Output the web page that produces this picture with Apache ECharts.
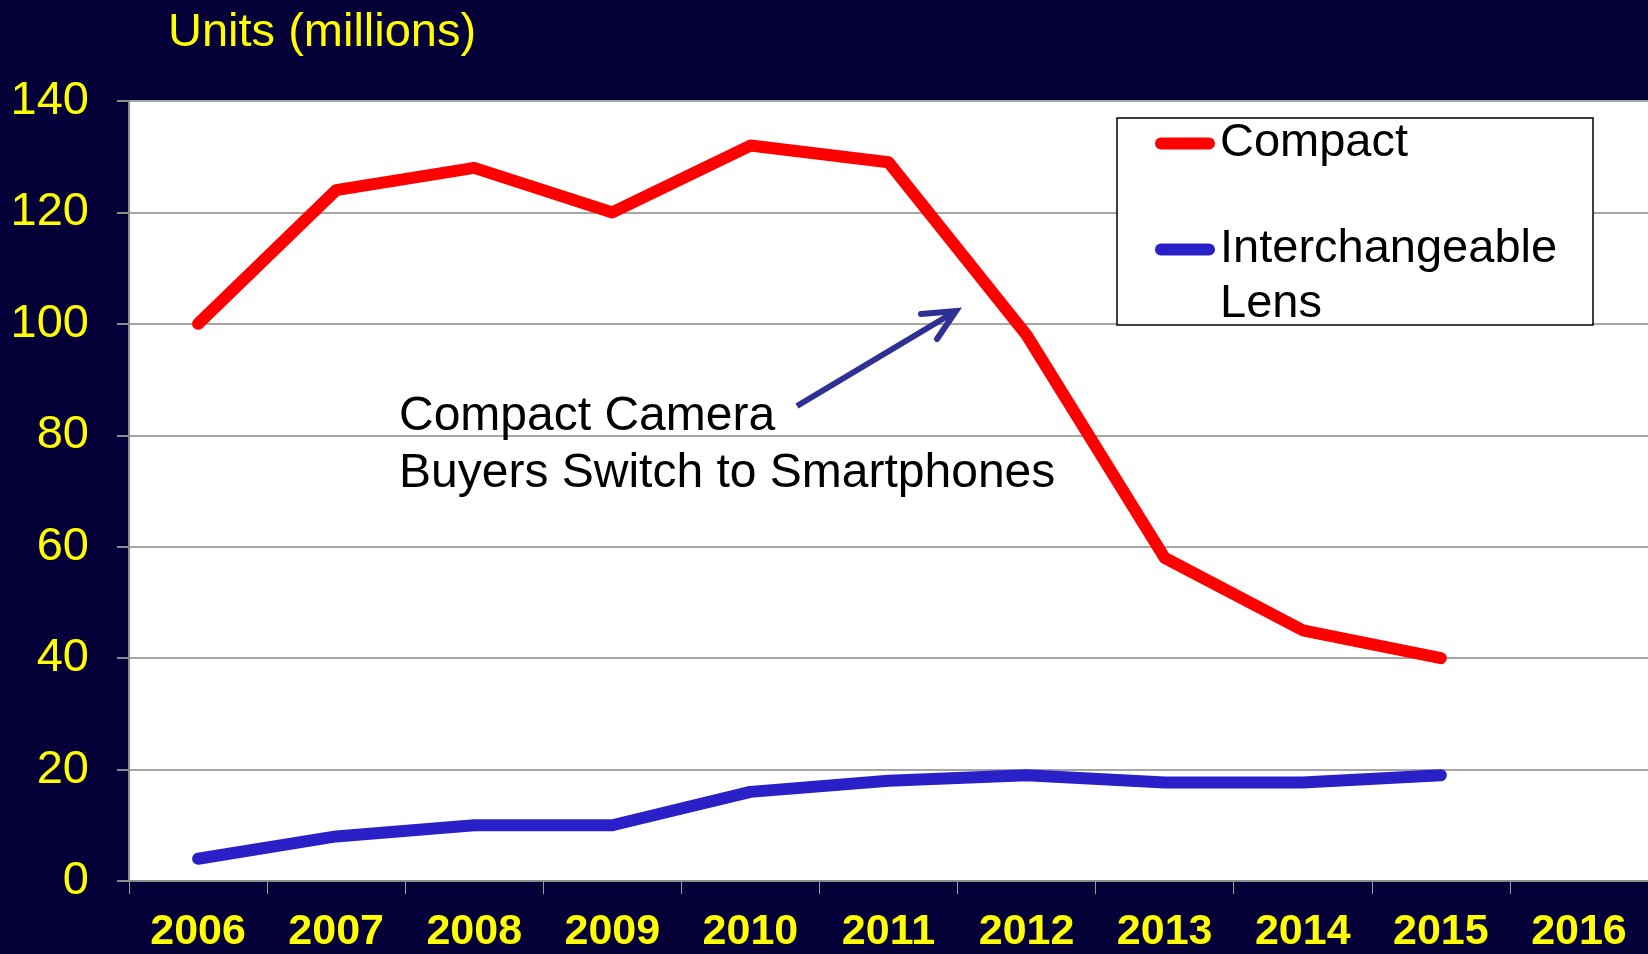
<!DOCTYPE html>
<html>
<head>
<meta charset="utf-8">
<script src="https://cdn.jsdelivr.net/npm/echarts@6/dist/echarts.min.js"></script>
<style>
  html, body { margin: 0; padding: 0; background: #050038; }
  #chart { width: 1648px; height: 954px; }
</style>
</head>
<body>
<div id="chart"></div>
<script>
// ---- data ----
const years = ['2006', '2007', '2008', '2009', '2010', '2011', '2012', '2013', '2014', '2015', '2016'];
const compact = [100, 124, 128, 120, 132, 129, 98, 58, 45, 40, null];
const interchangeable = [4, 8, 10, 10, 16, 18, 19, 17.7, 17.7, 19, null];
const seriesNames = ['Compact', 'Interchangeable Lens'];
const yTitle = 'Units (millions)';
const noteText = 'Compact Camera\nBuyers Switch to Smartphones';

const FONT = '"Liberation Sans", Arial, sans-serif';
const chart = echarts.init(document.getElementById('chart'), null, { renderer: 'canvas' });

// arrow annotation geometry (pixels)
const tail = [797, 406], tip = [956, 311];
const wing1 = [921, 314], wing2 = [937, 339];

chart.setOption({
  backgroundColor: '#050038',
  animation: false,
  title: {
    text: yTitle,
    left: 163,
    top: 5,
    textStyle: { color: '#FFFF00', fontSize: 47, fontWeight: 'normal', fontFamily: FONT }
  },
  grid: {
    left: 129, top: 101, width: 1526, height: 783,
    show: true, backgroundColor: '#FFFFFF', borderWidth: 0
  },
  legend: {
    orient: 'vertical',
    left: 1155,
    top: 120,
    padding: 0,
    itemGap: 0,
    itemWidth: 60,
    itemHeight: 12,
    icon: 'path://M6,0 H54 A6,6 0 0 1 54,12 H6 A6,6 0 0 1 6,0 Z',
    formatter: function (name) {
      return name === seriesNames[1] ? ' \n' + name.replace(' ', '\n') : name;
    },
    textStyle: { color: '#000', fontSize: 47, fontFamily: FONT, lineHeight: 45 },
    data: [
      { name: seriesNames[0], textStyle: { lineHeight: 45 } },
      { name: seriesNames[1], textStyle: { lineHeight: 55 } }
    ]
  },
  xAxis: {
    type: 'category',
    data: years,
    boundaryGap: true,
    axisLine: { show: true, lineStyle: { color: '#8c8c8c', width: 2 } },
    axisTick: { show: true, alignWithLabel: false, length: 13, lineStyle: { color: '#9a9a9a', width: 1 } },
    axisLabel: { color: '#FFFF00', fontSize: 43, fontWeight: 'bold', fontFamily: FONT, margin: 30 },
    splitLine: { show: false }
  },
  yAxis: {
    type: 'value',
    min: 0, max: 140, interval: 20,
    axisLine: { show: true, lineStyle: { color: '#8c8c8c', width: 2 } },
    axisTick: { show: true, length: 12, lineStyle: { color: '#8c8c8c', width: 2 } },
    axisLabel: { color: '#FFFF00', fontSize: 47, fontFamily: FONT, margin: 40 },
    splitLine: { show: true, lineStyle: { color: '#A6A6A6', width: 2 } }
  },
  series: [
    {
      name: seriesNames[0], type: 'line', data: compact,
      symbol: 'none', showSymbol: false, z: 3,
      color: '#FF0000',
      itemStyle: { color: '#FF0000' },
      lineStyle: { color: '#FF0000', width: 12, cap: 'round', join: 'round' }
    },
    {
      name: seriesNames[1], type: 'line', data: interchangeable,
      symbol: 'none', showSymbol: false, z: 3,
      color: '#2A20C8',
      itemStyle: { color: '#2A20C8' },
      lineStyle: { color: '#2A20C8', width: 12, cap: 'round', join: 'round' }
    }
  ],
  graphic: [
    {
      type: 'rect', z: 3,
      shape: { x: 1117, y: 118, width: 476, height: 207 },
      style: { fill: '#FFFFFF', stroke: '#000000', lineWidth: 1.5 }
    },
    {
      type: 'text', z: 5,
      x: 399, y: 388,
      style: {
        text: noteText, fill: '#000000', font: '48px ' + FONT,
        lineHeight: 57, textAlign: 'left', textVerticalAlign: 'top'
      }
    },
    {
      type: 'polyline', z: 5,
      shape: { points: [tail, tip] },
      style: { stroke: '#2E3192', lineWidth: 6, lineCap: 'butt' }
    },
    {
      type: 'polyline', z: 5,
      shape: { points: [wing1, tip, wing2] },
      style: { stroke: '#2E3192', lineWidth: 6, lineCap: 'round', lineJoin: 'miter', fill: null }
    }
  ]
});
</script>
</body>
</html>
